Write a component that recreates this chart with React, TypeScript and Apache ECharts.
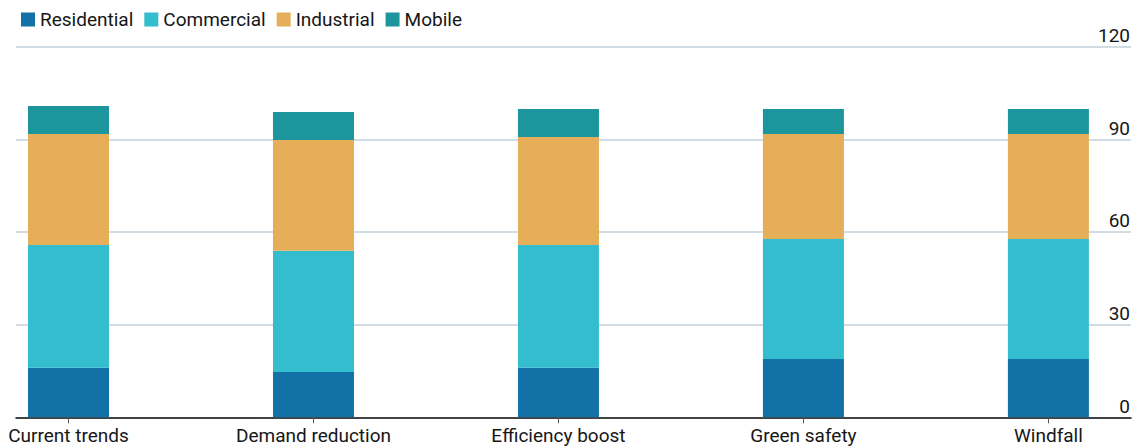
import React, { useEffect, useRef } from "react";
import * as echarts from "echarts";

// Scenario names along the bottom axis
const categories = ["Current trends", "Demand reduction", "Efficiency boost", "Green safety", "Windfall"];

// Stacked segments per scenario
const residential = [16.0, 14.7, 16.0, 18.9, 18.9];
const commercial = [39.8, 39.2, 39.8, 38.8, 38.8];
const industrial = [35.9, 35.9, 34.9, 34.0, 34.0];
const mobile = [9.1, 9.0, 9.1, 8.1, 8.1];

const seriesNames = ["Residential", "Commercial", "Industrial", "Mobile"];
const seriesColors = ["#1271a6", "#33bdcf", "#e6ae58", "#1c969c"];

// Value-axis ticks on the right
const yTicks = [0, 30, 60, 90, 120];

const FONT = "Roboto, 'Noto Sans', sans-serif";
const TEXT = "#161616";

export default function App() {
  const ref = useRef<HTMLDivElement>(null);

  useEffect(() => {
    if (!ref.current) return;
    const chart = echarts.init(ref.current, undefined, { renderer: "svg" });
    const values = [residential, commercial, industrial, mobile];
    const yMin = yTicks[0];
    const yMax = yTicks[yTicks.length - 1];
    const top = 46.6;
    const bottom = 30.7;

    chart.setOption({
      animation: false,
      backgroundColor: "#ffffff",
      textStyle: { fontFamily: FONT },
      legend: {
        left: 16,
        top: 5,
        icon: "rect",
        itemWidth: 14,
        itemHeight: 14,
        itemGap: 11,
        textStyle: { fontFamily: FONT, fontSize: 19, color: TEXT },
        data: seriesNames,
      },
      grid: [
        // bars: first and last category sit at the plot's edges
        { left: 68.5, right: 95.6, top, bottom, containLabel: false },
        // full-width frame for the gridlines, value labels and baseline
        { left: 16, right: 13, top, bottom, containLabel: false },
      ],
      xAxis: [
        {
          type: "category",
          gridIndex: 0,
          data: categories,
          boundaryGap: false,
          axisLine: { show: false },
          axisTick: { show: true, length: 6, lineStyle: { color: "#555555", width: 1 } },
          splitLine: { show: false },
          axisLabel: { margin: 9, fontFamily: FONT, fontSize: 19, color: TEXT, interval: 0 },
        },
        {
          type: "value",
          gridIndex: 1,
          min: 0,
          max: 1,
          axisLine: { show: true, onZero: false, lineStyle: { color: "#111111", width: 1.5 } },
          axisTick: { show: false },
          axisLabel: { show: false },
          splitLine: { show: false },
        },
      ],
      yAxis: [
        {
          type: "value",
          gridIndex: 0,
          min: yMin,
          max: yMax,
          interval: 30,
          show: false,
        },
        {
          type: "value",
          gridIndex: 1,
          position: "right",
          min: yMin,
          max: yMax,
          interval: 30,
          axisLine: { show: false },
          axisTick: { show: false },
          splitLine: { show: true, lineStyle: { color: "#c3d1db", width: 1.5 } },
          axisLabel: {
            inside: true,
            margin: 1,
            fontFamily: FONT,
            fontSize: 19,
            color: TEXT,
            verticalAlign: "bottom",
            lineHeight: 22,
          },
        },
      ],
      series: seriesNames.map((name, s) => ({
        name,
        type: "bar",
        xAxisIndex: 0,
        yAxisIndex: 0,
        stack: "total",
        barWidth: 81,
        itemStyle: { color: seriesColors[s] },
        emphasis: { disabled: true },
        data: values[s],
      })),
    });

    return () => chart.dispose();
  }, []);

  return (
    <div
      ref={ref}
      style={{ position: "absolute", left: 0, top: 0, width: 1144, height: 448 }}
    />
  );
}
